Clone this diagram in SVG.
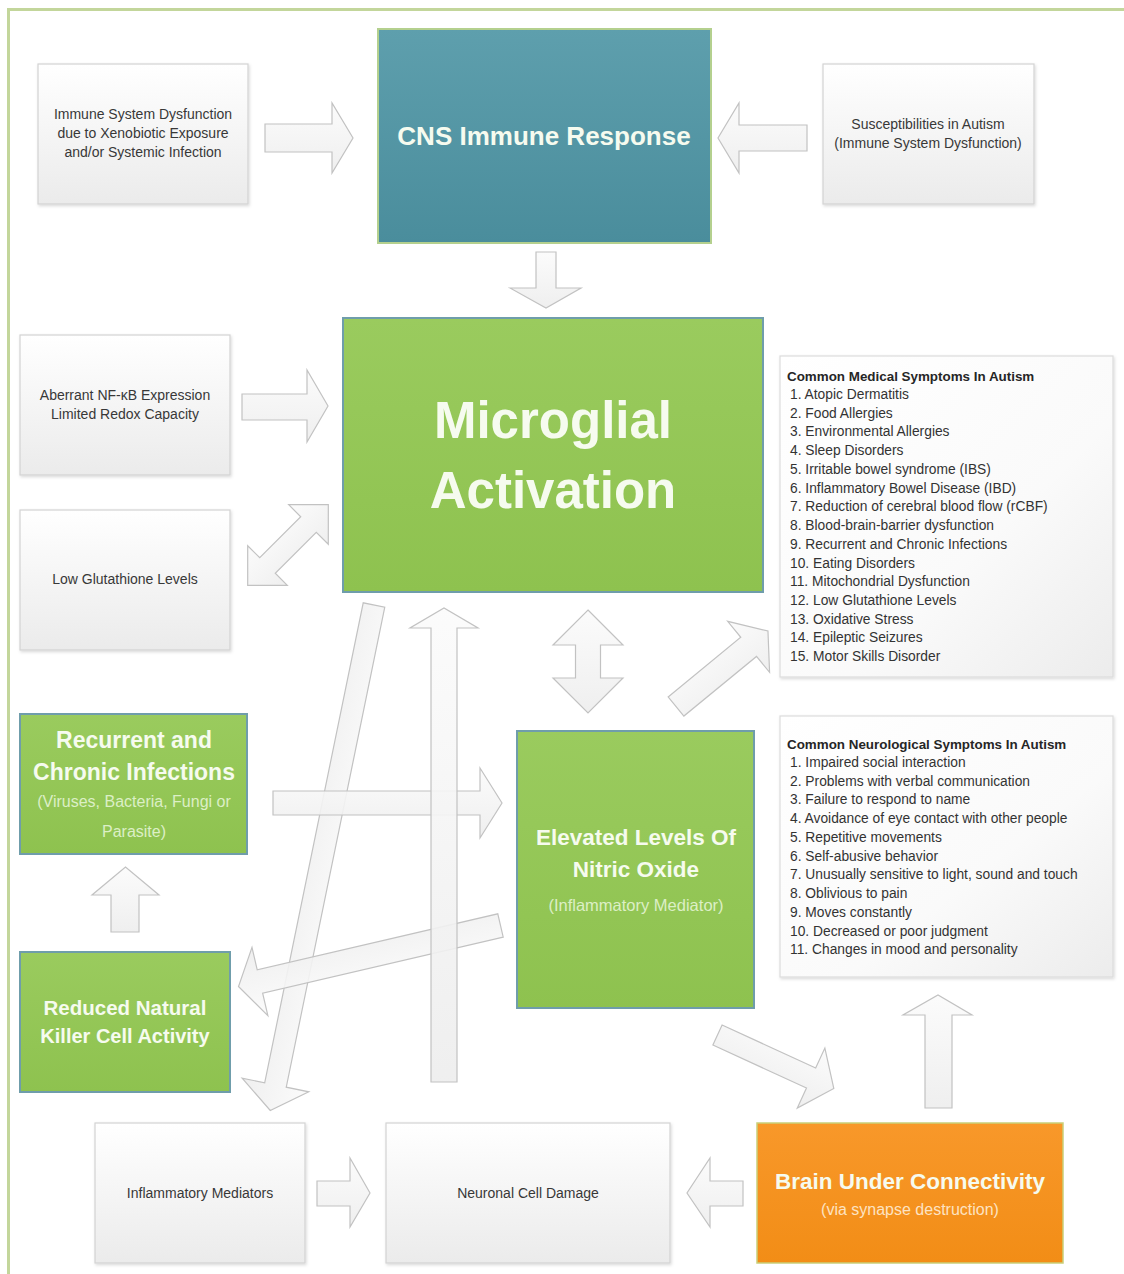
<svg xmlns="http://www.w3.org/2000/svg" width="1124" height="1274" viewBox="0 0 1124 1274">
<defs>
<linearGradient id="gBox" x1="0" y1="0" x2="0" y2="1"><stop offset="0" stop-color="#ffffff"/><stop offset="1" stop-color="#ebebeb"/></linearGradient>
<linearGradient id="gList" x1="0" y1="0" x2="1" y2="1"><stop offset="0" stop-color="#ffffff"/><stop offset="0.6" stop-color="#fafafa"/><stop offset="1" stop-color="#ececec"/></linearGradient>
<linearGradient id="gTeal" x1="0" y1="0" x2="0" y2="1"><stop offset="0" stop-color="#5e9fad"/><stop offset="1" stop-color="#4a8d9c"/></linearGradient>
<linearGradient id="gGreen" x1="0" y1="0" x2="0" y2="1"><stop offset="0" stop-color="#9acb5e"/><stop offset="1" stop-color="#8ec24f"/></linearGradient>
<linearGradient id="gOrange" x1="0" y1="0" x2="0" y2="1"><stop offset="0" stop-color="#f8982a"/><stop offset="1" stop-color="#f28d16"/></linearGradient>
<linearGradient id="gArrow" x1="0" y1="0" x2="0" y2="1"><stop offset="0" stop-color="#fbfbfb"/><stop offset="1" stop-color="#ededed"/></linearGradient>
<filter id="sh" x="-10%" y="-10%" width="120%" height="120%"><feDropShadow dx="1" dy="1.5" stdDeviation="1.5" flood-color="#000" flood-opacity="0.15"/></filter>
<style>
.gray{fill:url(#gBox);stroke:#d3d3d3;stroke-width:1.2;filter:url(#sh)}
.list{fill:url(#gList);stroke:#dcdcdc;stroke-width:1.2;filter:url(#sh)}
.green{fill:url(#gGreen);stroke:#6f9dab;stroke-width:2}
.teal{fill:url(#gTeal);stroke:#b4d08e;stroke-width:2}
.orange{fill:url(#gOrange);stroke:#c9cf7a;stroke-width:1.5}
.arr{fill:url(#gArrow);fill-opacity:0.9;stroke:#c2c2c2;stroke-width:1.2;stroke-linejoin:miter}
text{font-family:"Liberation Sans",Arial,sans-serif}
.t{font-size:14px;fill:#383838;text-anchor:middle}
.lt{font-size:13.8px;fill:#333333}
.lh{font-size:13.4px;font-weight:bold;fill:#262626}
.w{fill:#f6fbef;font-weight:bold;text-anchor:middle}
.ws{fill:#dcefc6;text-anchor:middle}
</style>
</defs>
<rect x="0" y="0" width="1124" height="1274" fill="#ffffff"/>
<rect x="8.5" y="9.5" width="1130" height="1280" fill="none" stroke="#c3d69b" stroke-width="3"/>

<g id="connectors">
<path class="arr" d="M265,124 H332 V103 L353,138 L332,173 V152 H265 Z"/>
<path class="arr" d="M807,125 H739 V103 L718,138 L739,173 V151 H807 Z"/>
<path class="arr" d="M536,252 H556 V288 H581 L546,308 L510,288 H536 Z"/>
<path class="arr" d="M242,394 H307 V370 L328,406 L307,442 V420 H242 Z"/>
<path class="arr" transform="translate(288,545) rotate(-45)" d="M-57,0 L-29,-28 V-11 H29 V-28 L57,0 L29,28 V11 H-29 V28 Z"/>
<path class="arr" transform="translate(374,605) rotate(101.6)" d="M0,-11 H490 V-34 L516,0 L490,34 V11 H0 Z"/>
<path class="arr" d="M273,791 H480 V768 L502,803 L480,838 V815 H273 Z"/>
<path class="arr" transform="translate(500.5,925.5) rotate(166.9)" d="M0,-12 H247 V-35 L269,0 L247,35 V12 H0 Z"/>
<path class="arr" d="M431,1082 V628 H410 L444,608 L478,628 H457 V1082 Z"/>
<path class="arr" d="M111,932 V895 H92 L125.5,867 L159,895 H139 V932 Z"/>
<path class="arr" d="M588,610 L623,645 H600.5 V678 H623 L588,713 L553,678 H575.5 V645 H553 Z"/>
<path class="arr" transform="translate(676,706.5) rotate(-39.4)" d="M0,-12.4 H94 V-33 L119,0 L94,33 V12.4 H0 Z"/>
<path class="arr" transform="translate(717.5,1035) rotate(24.7)" d="M0,-11 H103 V-33 L128,0 L103,33 V11 H0 Z"/>
<path class="arr" d="M925,1108 V1015 H903 L938,995 L972,1015 H952 V1108 Z"/>
<path class="arr" d="M317,1181 H350 V1158 L370,1193 L350,1227 V1206 H317 Z"/>
<path class="arr" d="M743,1181 H710 V1158 L687,1193 L710,1227 V1206 H743 Z"/>
</g>

<g id="n-immune">
<rect class="gray" x="38" y="64" width="210" height="140"/>
<text class="t" x="143" y="119">Immune System Dysfunction</text>
<text class="t" x="143" y="138">due to Xenobiotic Exposure</text>
<text class="t" x="143" y="157">and/or Systemic Infection</text>
</g>
<g id="n-cns">
<rect class="teal" x="378" y="29" width="333" height="214"/>
<text class="w" x="544" y="145" font-size="26">CNS Immune Response</text>
</g>
<g id="n-suscept">
<rect class="gray" x="823" y="64" width="211" height="140"/>
<text class="t" x="928" y="129">Susceptibilities in Autism</text>
<text class="t" x="928" y="148">(Immune System Dysfunction)</text>
</g>
<g id="n-microglial">
<rect class="green" x="343" y="318" width="420" height="274"/>
<text class="w" x="553" y="438" font-size="51">Microglial</text>
<text class="w" x="553" y="508" font-size="51">Activation</text>
</g>
<g id="n-aberrant">
<rect class="gray" x="20" y="335" width="210" height="140"/>
<text class="t" x="125" y="400" font-size="13.6">Aberrant NF-κB Expression</text>
<text class="t" x="125" y="419" font-size="13.6">Limited Redox Capacity</text>
</g>
<g id="n-glutathione">
<rect class="gray" x="20" y="510" width="210" height="140"/>
<text class="t" x="125" y="584">Low Glutathione Levels</text>
</g>
<g id="n-medical">
<rect class="list" x="780" y="356" width="333" height="321"/>
<text class="lh" x="787" y="380.5">Common Medical Symptoms In Autism</text>
<text class="lt" x="790" y="399">1. Atopic Dermatitis</text>
<text class="lt" x="790" y="417.7">2. Food Allergies</text>
<text class="lt" x="790" y="436.4">3. Environmental Allergies</text>
<text class="lt" x="790" y="455.1">4. Sleep Disorders</text>
<text class="lt" x="790" y="473.9">5. Irritable bowel syndrome (IBS)</text>
<text class="lt" x="790" y="492.6">6. Inflammatory Bowel Disease (IBD)</text>
<text class="lt" x="790" y="511.3">7. Reduction of cerebral blood flow (rCBF)</text>
<text class="lt" x="790" y="530">8. Blood-brain-barrier dysfunction</text>
<text class="lt" x="790" y="548.8">9. Recurrent and Chronic Infections</text>
<text class="lt" x="790" y="567.5">10. Eating Disorders</text>
<text class="lt" x="790" y="586.2">11. Mitochondrial Dysfunction</text>
<text class="lt" x="790" y="604.9">12. Low Glutathione Levels</text>
<text class="lt" x="790" y="623.7">13. Oxidative Stress</text>
<text class="lt" x="790" y="642.4">14. Epileptic Seizures</text>
<text class="lt" x="790" y="661.1">15. Motor Skills Disorder</text>
</g>
<g id="n-neuro">
<rect class="list" x="780" y="716" width="333" height="261"/>
<text class="lh" x="787" y="748.5">Common Neurological Symptoms In Autism</text>
<text class="lt" x="790" y="767">1. Impaired social interaction</text>
<text class="lt" x="790" y="785.7">2. Problems with verbal communication</text>
<text class="lt" x="790" y="804.4">3. Failure to respond to name</text>
<text class="lt" x="790" y="823.1">4. Avoidance of eye contact with other people</text>
<text class="lt" x="790" y="841.9">5. Repetitive movements</text>
<text class="lt" x="790" y="860.6">6. Self-abusive behavior</text>
<text class="lt" x="790" y="879.3">7. Unusually sensitive to light, sound and touch</text>
<text class="lt" x="790" y="898">8. Oblivious to pain</text>
<text class="lt" x="790" y="916.8">9. Moves constantly</text>
<text class="lt" x="790" y="935.5">10. Decreased or poor judgment</text>
<text class="lt" x="790" y="954.2">11. Changes in mood and personality</text>
</g>
<g id="n-infections">
<rect class="green" x="20" y="714" width="227" height="140"/>
<text class="w" x="134" y="748" font-size="23">Recurrent and</text>
<text class="w" x="134" y="780" font-size="23">Chronic Infections</text>
<text class="ws" x="134" y="806.5" font-size="16">(Viruses, Bacteria, Fungi or</text>
<text class="ws" x="134" y="836.5" font-size="16">Parasite)</text>
</g>
<g id="n-nitric">
<rect class="green" x="517" y="731" width="237" height="277"/>
<text class="w" x="636" y="845" font-size="22.5">Elevated Levels Of</text>
<text class="w" x="636" y="877" font-size="22.5">Nitric Oxide</text>
<text class="ws" x="636" y="911" font-size="16.5">(Inflammatory Mediator)</text>
</g>
<g id="n-nk">
<rect class="green" x="20" y="952" width="210" height="140"/>
<text class="w" x="125" y="1015" font-size="20.5">Reduced Natural</text>
<text class="w" x="125" y="1043" font-size="20">Killer Cell Activity</text>
</g>
<g id="n-inflammatory">
<rect class="gray" x="95" y="1123" width="210" height="140"/>
<text class="t" x="200" y="1198" font-size="14.5">Inflammatory Mediators</text>
</g>
<g id="n-neuronal">
<rect class="gray" x="386" y="1123" width="284" height="140"/>
<text class="t" x="528" y="1198" font-size="13.8">Neuronal Cell Damage</text>
</g>
<g id="n-brain">
<rect class="orange" x="757" y="1123" width="306" height="140"/>
<text class="w" x="910" y="1189" font-size="22.5" fill="#fff4e6">Brain Under Connectivity</text>
<text x="910" y="1215" font-size="16" fill="#fde3c2" text-anchor="middle">(via synapse destruction)</text>
</g>
</svg>
